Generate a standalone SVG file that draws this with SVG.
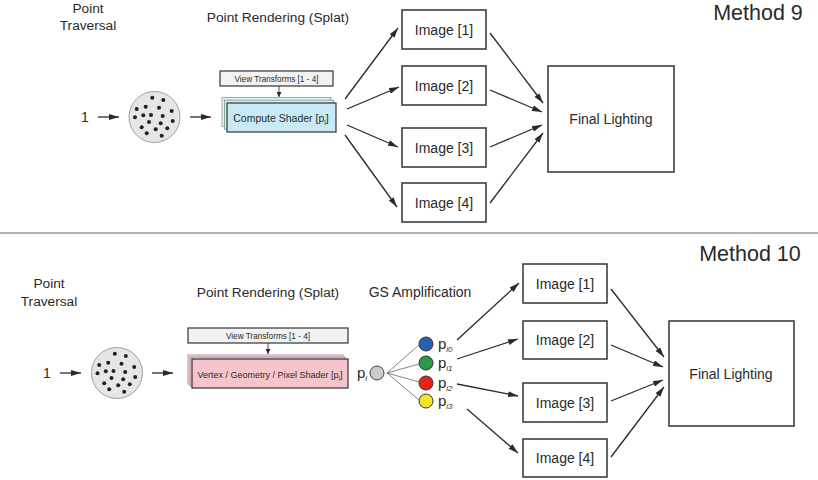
<svg xmlns="http://www.w3.org/2000/svg" width="818" height="480" viewBox="0 0 818 480">
<style>
text{font-family:"Liberation Sans",Arial,sans-serif;fill:#2a2a2a}
.lbl{font-size:13.7px;text-anchor:middle}
.img{font-size:14px;text-anchor:middle}
.title{font-size:21.5px;text-anchor:middle}
.small{font-size:8.2px;text-anchor:middle}
.sh{font-size:10.5px;text-anchor:middle}
.box{fill:#fff;stroke:#333;stroke-width:1.5}
.vt{fill:#f1f2f1;stroke:#333;stroke-width:1.2}
.cl{stroke:#2a2a2a;stroke-width:1.3;fill:none;marker-end:url(#ah)}
.fan{stroke:#666;stroke-width:0.8;fill:none}
.dotc{fill:#e6e6e6;stroke:#a0a0a0;stroke-width:1}
.pc{stroke:#333;stroke-width:1}
</style>
<defs>
<marker id="ah" viewBox="0 0 10 6" refX="10" refY="3" markerWidth="10" markerHeight="6" markerUnits="userSpaceOnUse" orient="auto">
<path d="M0,0 L10,3 L0,6 Z" fill="#2a2a2a"/>
</marker>
<marker id="ahs" viewBox="0 0 6 6" refX="6" refY="3" markerWidth="5" markerHeight="5" markerUnits="userSpaceOnUse" orient="auto">
<path d="M0,0 L6,3 L0,6 Z" fill="#2a2a2a"/>
</marker>
<g id="cloud">
<circle cx="0" cy="0" r="25.5" class="dotc"/>
<g fill="#222">
<circle cx="-2.2" cy="-19.3" r="2"/><circle cx="8.8" cy="-17" r="2"/>
<circle cx="-8.8" cy="-10.3" r="2"/><circle cx="4.5" cy="-9.3" r="2"/>
<circle cx="-17.8" cy="-8" r="2"/><circle cx="17.2" cy="-6" r="2"/>
<circle cx="-11.2" cy="-1.7" r="2"/><circle cx="-3.5" cy="-2" r="2"/>
<circle cx="8.2" cy="-1" r="2"/><circle cx="-19.5" cy="0.3" r="2"/>
<circle cx="18.2" cy="4" r="2"/><circle cx="-5.5" cy="5" r="2"/>
<circle cx="6.2" cy="6.3" r="2"/><circle cx="-12.8" cy="10.3" r="2"/>
<circle cx="1.2" cy="12.3" r="2"/><circle cx="12.8" cy="11.3" r="2"/>
<circle cx="-7.8" cy="16.3" r="2"/><circle cx="7.2" cy="18.7" r="2"/>
</g>
</g>
</defs>
<rect width="818" height="480" fill="#fff"/>

<!-- Method 9 -->
<g id="m9-title"><text class="title" x="758" y="20">Method 9</text></g>
<g id="m9-traversal-label"><text class="lbl" x="88" y="13">Point</text><text class="lbl" x="88" y="30">Traversal</text></g>
<g id="m9-render-label"><text class="lbl" x="278" y="22">Point Rendering (Splat)</text></g>
<g id="m9-one"><text class="img" x="85" y="122">1</text></g>
<g id="m9-points"><use href="#cloud" x="154.5" y="117"/></g>
<g id="m9-view"><rect class="vt" x="220" y="71" width="113" height="15"/><text class="small" x="276.5" y="81.5">View  Transforms [1 - 4]</text></g>
<g id="m9-shader">
<rect x="222" y="97.5" width="109" height="29" fill="#e2f3f8" stroke="#9aa" stroke-width="1"/>
<rect x="224.5" y="100.2" width="109" height="29" fill="#d5eff6" stroke="#8a9" stroke-width="1"/>
<rect x="227" y="103" width="109" height="29" fill="#c6ebf5" stroke="#333" stroke-width="1.2"/>
<text class="sh" x="281" y="121.5">Compute Shader [p<tspan font-size="7" dy="3">i</tspan><tspan dy="-3">]</tspan></text>
</g>
<g id="m9-img1"><rect class="box" x="402" y="10" width="84" height="39"/><text class="img" x="444" y="35">Image [1]</text></g>
<g id="m9-img2"><rect class="box" x="402" y="66" width="84" height="39"/><text class="img" x="444" y="91">Image [2]</text></g>
<g id="m9-img3"><rect class="box" x="402" y="128" width="84" height="39"/><text class="img" x="444" y="153">Image [3]</text></g>
<g id="m9-img4"><rect class="box" x="402" y="183" width="84" height="39"/><text class="img" x="444" y="208">Image [4]</text></g>
<g id="m9-final"><rect class="box" x="548" y="66" width="126" height="106"/><text class="img" x="611" y="124">Final Lighting</text></g>

<!-- separator -->
<line x1="0" y1="233" x2="818" y2="233" stroke="#999" stroke-width="1.3"/>

<!-- Method 10 -->
<g id="m10-title"><text class="title" x="750" y="261">Method 10</text></g>
<g id="m10-traversal-label"><text class="lbl" x="49" y="288">Point</text><text class="lbl" x="49" y="306">Traversal</text></g>
<g id="m10-render-label"><text class="lbl" x="268" y="297">Point Rendering (Splat)</text></g>
<g id="m10-gs-label"><text class="lbl" x="420" y="297" style="font-size:14px">GS Amplification</text></g>
<g id="m10-one"><text class="img" x="47" y="378">1</text></g>
<g id="m10-points"><use href="#cloud" x="117" y="373"/></g>
<g id="m10-view"><rect class="vt" x="188" y="328" width="160" height="15"/><text class="small" x="268" y="338.5">View  Transforms [1 - 4]</text></g>
<g id="m10-shader">
<rect x="188" y="355" width="155" height="29" fill="#fbe3e6" stroke="#b99" stroke-width="1"/>
<rect x="190" y="357" width="155" height="29" fill="#f8d5da" stroke="#a88" stroke-width="1"/>
<rect x="192" y="359" width="156" height="29" fill="#f6c5cc" stroke="#333" stroke-width="1.2"/>
<text class="sh" x="270" y="377.5" style="font-size:9px">Vertex / Geometry / Pixel Shader [p<tspan font-size="6.5" dy="3">i</tspan><tspan dy="-3">]</tspan></text>
</g>
<g id="m10-pi"><text x="357" y="378" style="font-size:15px">p<tspan font-size="8" font-style="italic" dy="3">i</tspan></text><circle cx="377" cy="373" r="7" fill="#ccc" stroke="#444" stroke-width="1"/></g>
<g id="m10-p0"><circle class="pc" cx="426" cy="344" r="7" fill="#2b5fb0"/><text x="438" y="349" style="font-size:15px">p<tspan font-size="8" font-style="italic" dy="3">i0</tspan></text></g>
<g id="m10-p1"><circle class="pc" cx="426" cy="363" r="7" fill="#2a984a"/><text x="438" y="368" style="font-size:15px">p<tspan font-size="8" font-style="italic" dy="3">i1</tspan></text></g>
<g id="m10-p2"><circle class="pc" cx="426" cy="383" r="7" fill="#e8231d"/><text x="438" y="388" style="font-size:15px">p<tspan font-size="8" font-style="italic" dy="3">i2</tspan></text></g>
<g id="m10-p3"><circle class="pc" cx="426" cy="401" r="7" fill="#f6e22e"/><text x="438" y="406" style="font-size:15px">p<tspan font-size="8" font-style="italic" dy="3">i3</tspan></text></g>
<g id="m10-img1"><rect class="box" x="523" y="264" width="84" height="39"/><text class="img" x="565" y="289">Image [1]</text></g>
<g id="m10-img2"><rect class="box" x="523" y="321" width="84" height="38"/><text class="img" x="565" y="345">Image [2]</text></g>
<g id="m10-img3"><rect class="box" x="523" y="383" width="84" height="39"/><text class="img" x="565" y="408">Image [3]</text></g>
<g id="m10-img4"><rect class="box" x="523" y="439" width="84" height="38"/><text class="img" x="565" y="463">Image [4]</text></g>
<g id="m10-final"><rect class="box" x="669" y="321" width="125" height="105"/><text class="img" x="731" y="379">Final Lighting</text></g>

<!-- connectors -->
<g id="connectors">
<line class="cl" x1="98" y1="117" x2="119" y2="117"/>
<line class="cl" x1="190" y1="117" x2="211" y2="117"/>
<line x1="279" y1="86" x2="279" y2="97" stroke="#2a2a2a" stroke-width="0.8" marker-end="url(#ahs)"/>
<line class="cl" x1="345" y1="99" x2="398" y2="28"/>
<line class="cl" x1="347" y1="109" x2="399" y2="87"/>
<line class="cl" x1="347" y1="125" x2="398" y2="147"/>
<line class="cl" x1="345" y1="135" x2="397" y2="207"/>
<line class="cl" x1="490" y1="33" x2="543" y2="103"/>
<line class="cl" x1="490" y1="90" x2="542" y2="112"/>
<line class="cl" x1="490" y1="147" x2="542" y2="125"/>
<line class="cl" x1="490" y1="203" x2="543" y2="133"/>

<line class="cl" x1="60" y1="373" x2="81" y2="373"/>
<line class="cl" x1="152" y1="373" x2="173" y2="373"/>
<line x1="268" y1="343" x2="268" y2="354" stroke="#2a2a2a" stroke-width="0.8" marker-end="url(#ahs)"/>
<line class="fan" x1="387" y1="373" x2="419" y2="345"/>
<line class="fan" x1="387" y1="373" x2="419" y2="364"/>
<line class="fan" x1="387" y1="373" x2="419" y2="382"/>
<line class="fan" x1="387" y1="373" x2="419" y2="400"/>
<line class="cl" x1="457" y1="340" x2="519" y2="283"/>
<line class="cl" x1="457" y1="359" x2="518" y2="339"/>
<line class="cl" x1="457" y1="384" x2="518" y2="396"/>
<line class="cl" x1="467" y1="409" x2="518" y2="453"/>
<line class="cl" x1="611" y1="289" x2="664" y2="357"/>
<line class="cl" x1="611" y1="345" x2="663" y2="367"/>
<line class="cl" x1="611" y1="401" x2="663" y2="380"/>
<line class="cl" x1="611" y1="457" x2="664" y2="387"/>
</g>
</svg>
